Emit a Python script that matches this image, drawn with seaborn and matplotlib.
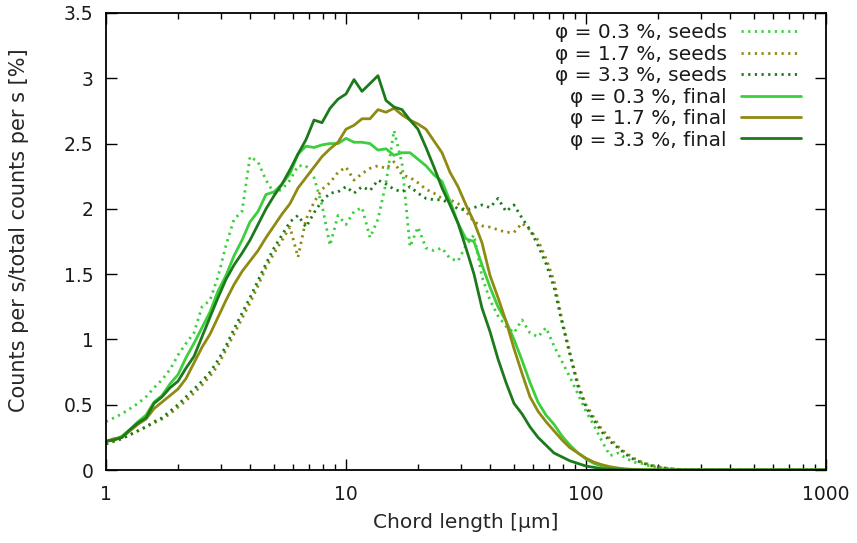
import numpy as np
import pandas as pd
import matplotlib
matplotlib.use("Agg")
import matplotlib.pyplot as plt
from matplotlib.ticker import FixedLocator, FuncFormatter, NullFormatter
import seaborn as sns

# Chord length bins [um]
chord = [1.000, 1.080, 1.166, 1.259, 1.359, 1.468, 1.585, 1.711, 1.848, 1.995,
         2.154, 2.326, 2.512, 2.712, 2.929, 3.162, 3.415, 3.687, 3.981, 4.299,
         4.642, 5.012, 5.412, 5.843, 6.310, 6.813, 7.356, 7.943, 8.577, 9.261,
         10.00, 10.80, 11.66, 12.59, 13.59, 14.68, 15.85, 17.11, 18.48, 19.95,
         21.54, 23.26, 25.12, 27.12, 29.29, 31.62, 34.15, 36.87, 39.81, 42.99,
         46.42, 50.12, 54.12, 58.43, 63.10, 68.13, 73.56, 79.43, 85.77, 92.61,
         100.0, 108.0, 116.6, 125.9, 135.9, 146.8, 158.5, 171.1, 184.8, 199.5,
         215.4, 232.6, 251.2, 316.2, 398.1, 501.2, 631.0, 794.3, 1000.0]

seeds_03 = [0.37, 0.40, 0.43, 0.47, 0.51, 0.56, 0.63, 0.69, 0.77, 0.88,
            0.97, 1.05, 1.25, 1.30, 1.48, 1.72, 1.92, 1.98, 2.40, 2.36,
            2.22, 2.12, 2.15, 2.22, 2.33, 2.33, 2.24, 2.03, 1.72, 1.95,
            1.88, 1.98, 2.01, 1.78, 1.92, 2.20, 2.60, 2.35, 1.71, 1.86,
            1.70, 1.68, 1.70, 1.62, 1.60, 1.72, 1.80, 1.48, 1.30, 1.18,
            1.10, 1.05, 1.15, 1.05, 1.02, 1.09, 0.95, 0.83, 0.71, 0.58,
            0.45, 0.34, 0.22, 0.11, 0.13, 0.09, 0.06, 0.05, 0.03, 0.02,
            0.012, 0.006, 0.003, 0.001, 0.0, 0.0, 0.0, 0.0, 0.0]

seeds_17 = [0.20, 0.22, 0.24, 0.27, 0.30, 0.33, 0.36, 0.39, 0.43, 0.48,
            0.53, 0.59, 0.65, 0.72, 0.80, 0.92, 1.04, 1.16, 1.28, 1.41,
            1.55, 1.66, 1.76, 1.86, 1.63, 1.92, 2.05, 2.15, 2.20, 2.28,
            2.32, 2.22, 2.27, 2.31, 2.33, 2.31, 2.36, 2.26, 2.24, 2.20,
            2.15, 2.12, 2.08, 2.07, 2.04, 1.98, 1.90, 1.87, 1.86, 1.84,
            1.82, 1.82, 1.89, 1.84, 1.76, 1.62, 1.45, 1.15, 0.90, 0.66,
            0.50, 0.40, 0.31, 0.24, 0.18, 0.13, 0.09, 0.06, 0.04, 0.025,
            0.015, 0.008, 0.004, 0.001, 0.0, 0.0, 0.0, 0.0, 0.0]

seeds_33 = [0.20, 0.22, 0.24, 0.27, 0.30, 0.33, 0.37, 0.40, 0.45, 0.50,
            0.56, 0.62, 0.68, 0.75, 0.84, 0.95, 1.08, 1.20, 1.32, 1.45,
            1.58, 1.70, 1.80, 1.90, 1.95, 1.86, 1.97, 2.06, 2.12, 2.13,
            2.17, 2.12, 2.17, 2.14, 2.22, 2.19, 2.15, 2.13, 2.17, 2.12,
            2.08, 2.07, 2.07, 2.04, 2.00, 1.99, 2.01, 2.03, 2.01, 2.08,
            1.98, 2.03, 1.93, 1.84, 1.72, 1.58, 1.40, 1.13, 0.88, 0.64,
            0.48, 0.38, 0.29, 0.22, 0.17, 0.12, 0.08, 0.055, 0.035, 0.022,
            0.013, 0.007, 0.003, 0.001, 0.0, 0.0, 0.0, 0.0, 0.0]

final_03 = [0.22, 0.23, 0.26, 0.31, 0.37, 0.42, 0.52, 0.57, 0.66, 0.73,
            0.86, 0.97, 1.09, 1.21, 1.37, 1.49, 1.64, 1.76, 1.90, 1.98,
            2.11, 2.13, 2.19, 2.27, 2.42, 2.48, 2.47, 2.49, 2.50, 2.50,
            2.54, 2.51, 2.51, 2.50, 2.45, 2.46, 2.41, 2.43, 2.43, 2.38,
            2.33, 2.26, 2.21, 2.06, 1.89, 1.77, 1.75, 1.57, 1.40, 1.25,
            1.14, 1.00, 0.84, 0.67, 0.52, 0.42, 0.35, 0.26, 0.19, 0.13,
            0.085, 0.05, 0.03, 0.015, 0.008, 0.004, 0.002, 0.001, 0.0, 0.0,
            0.0, 0.0, 0.0, 0.0, 0.0, 0.0, 0.0, 0.0, 0.0]

final_17 = [0.22, 0.24, 0.25, 0.30, 0.35, 0.39, 0.47, 0.52, 0.57, 0.62,
            0.70, 0.82, 0.94, 1.04, 1.17, 1.30, 1.42, 1.52, 1.60, 1.68,
            1.78, 1.87, 1.96, 2.04, 2.16, 2.24, 2.32, 2.40, 2.46, 2.51,
            2.61, 2.64, 2.69, 2.69, 2.76, 2.74, 2.77, 2.72, 2.68, 2.65,
            2.61, 2.52, 2.43, 2.28, 2.17, 2.03, 1.90, 1.74, 1.49, 1.32,
            1.14, 0.93, 0.74, 0.56, 0.45, 0.37, 0.30, 0.23, 0.17, 0.13,
            0.09, 0.06, 0.04, 0.025, 0.015, 0.008, 0.004, 0.002, 0.001, 0.0,
            0.0, 0.0, 0.0, 0.0, 0.0, 0.0, 0.0, 0.0, 0.0]

final_33 = [0.22, 0.23, 0.25, 0.31, 0.36, 0.40, 0.51, 0.56, 0.63, 0.68,
            0.78, 0.87, 1.02, 1.17, 1.32, 1.46, 1.57, 1.66, 1.76, 1.88,
            2.00, 2.10, 2.19, 2.30, 2.42, 2.53, 2.68, 2.66, 2.77, 2.84,
            2.88, 2.99, 2.90, 2.96, 3.02, 2.83, 2.78, 2.76, 2.68, 2.61,
            2.47, 2.32, 2.16, 2.03, 1.89, 1.70, 1.50, 1.24, 1.06, 0.85,
            0.67, 0.51, 0.43, 0.33, 0.25, 0.19, 0.13, 0.10, 0.07, 0.05,
            0.03, 0.02, 0.01, 0.006, 0.003, 0.002, 0.001, 0.0, 0.0, 0.0,
            0.0, 0.0, 0.0, 0.0, 0.0, 0.0, 0.0, 0.0, 0.0]

labels = ["φ = 0.3 %, seeds", "φ = 1.7 %, seeds", "φ = 3.3 %, seeds",
          "φ = 0.3 %, final", "φ = 1.7 %, final", "φ = 3.3 %, final"]
series = [seeds_03, seeds_17, seeds_33, final_03, final_17, final_33]

x_ticks = [1, 10, 100, 1000]
y_ticks = [0, 0.5, 1, 1.5, 2, 2.5, 3, 3.5]

colors = ["#3ccf3c", "#8f8a12", "#1c7a1c", "#3ccf3c", "#8f8a12", "#1c7a1c"]
styles = [(0, (0.8, 1.6))] * 3 + ["-"] * 3

sns.set_style("ticks")
plt.rcParams["font.family"] = ["DejaVu Sans"]
plt.rcParams["text.color"] = "#1a1a1a"

fig = plt.figure(figsize=(8.57, 5.43), dpi=100)
ax = fig.add_axes([106 / 857, 1 - 470 / 543, 720 / 857, 457 / 543])

for lab, vals, col, ls in zip(labels, series, colors, styles):
    df = pd.DataFrame({"x": chord, "y": vals})
    sns.lineplot(data=df, x="x", y="y", ax=ax, color=col, linestyle=ls,
                 linewidth=2.0, label=lab, estimator=None, sort=False)

ax.set_xscale("log")
ax.set_xlim(1, 1000)
ax.set_ylim(0, 3.5)
ax.xaxis.set_major_locator(FixedLocator(x_ticks))
ax.xaxis.set_major_formatter(FuncFormatter(lambda v, p: f"{v:g}"))
minors = [m * d for d in (1, 10, 100) for m in range(2, 10)]
ax.xaxis.set_minor_locator(FixedLocator(minors))
ax.xaxis.set_minor_formatter(NullFormatter())
ax.yaxis.set_major_locator(FixedLocator(y_ticks))
ax.yaxis.set_major_formatter(FuncFormatter(lambda v, p: f"{v:g}"))

ax.tick_params(which="both", direction="in", top=True, right=True,
               labelsize=13.5, colors="black", labelcolor="#1a1a1a")
ax.tick_params(which="major", length=8, width=1.0)
ax.tick_params(which="minor", length=4.5, width=1.0)
ax.tick_params(axis="x", which="major", pad=11)
ax.tick_params(axis="y", which="major", pad=9)
for s in ax.spines.values():
    s.set_color("black")
    s.set_linewidth(1.3)

ax.set_xlabel("Chord length [μm]", fontsize=14.5)
ax.xaxis.set_label_coords(0.5, -0.095)
ax.set_ylabel("Counts per s/total counts per s [%]", fontsize=15)
ax.yaxis.set_label_coords(-0.107, 0.524)

leg = ax.legend(loc="upper right", frameon=False, markerfirst=False,
                fontsize=14.5, handlelength=3.0, handletextpad=0.7,
                labelspacing=0.12, borderaxespad=0.3,
                bbox_to_anchor=(0.985, 1.008))
for t in leg.get_texts():
    t.set_color("#1a1a1a")

fig.savefig("out.png", dpi=100)
